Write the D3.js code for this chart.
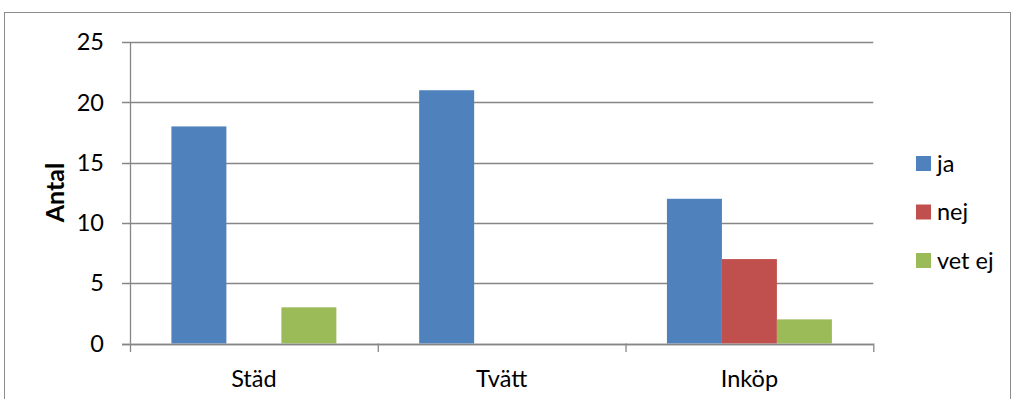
<!DOCTYPE html>
<html><head><meta charset="utf-8">
<script src="https://cdn.jsdelivr.net/npm/d3@7"></script>
<style>
html,body{margin:0;padding:0;background:#fff;}
svg{display:block;font-family:Lato,"Open Sans",sans-serif;}
</style></head>
<body>
<svg id="chart" width="1011" height="399"></svg>
<script>
const categories = ["Städ", "Tvätt", "Inköp"];
const seriesNames = ["ja", "nej", "vet ej"];
const ja = [18, 21, 12];
const nej = [0, 0, 7];
const vetEj = [3, 0, 2];
const yTicks = [0, 5, 10, 15, 20, 25];
const colors = ["#4F81BD", "#C0504D", "#9BBB59"];

const seriesValues = [ja, nej, vetEj];
const svg = d3.select("#chart");
const pLeft = 130, pRight = 873.3, pTop = 42, pBottom = 343.5;
const fs = 23.5;

// outer frame
svg.append("rect").attr("x", 4.5).attr("y", 12.5).attr("width", 1006).attr("height", 400)
  .attr("fill", "none").attr("stroke", "#8c8c8c").attr("stroke-width", 1);

const x = d3.scaleBand().domain(categories).range([pLeft, pRight]).paddingInner(0).paddingOuter(0);
const y = d3.scaleLinear().domain([0, 25]).range([pBottom, pTop]);
const groupPad = 41.4;
const x1 = d3.scaleBand().domain(seriesNames).range([groupPad, x.bandwidth() - groupPad]).padding(0);

const gridColor = "#868686";
// gridlines + y ticks
const gy = svg.append("g");
yTicks.forEach(t => {
  gy.append("line").attr("x1", pLeft - 8).attr("x2", pRight)
    .attr("y1", Math.round(y(t)) + 0.5).attr("y2", Math.round(y(t)) + 0.5)
    .attr("stroke", gridColor).attr("stroke-width", 1.3);
  gy.append("text").attr("x", 104).attr("y", y(t)).attr("dy", "0.35em")
    .attr("text-anchor", "end").attr("font-size", fs).attr("fill", "#000").text(t);
});
// y axis line
svg.append("line").attr("x1", pLeft + 0.5).attr("x2", pLeft + 0.5).attr("y1", pTop).attr("y2", pBottom)
  .attr("stroke", gridColor).attr("stroke-width", 1.3);

// bars
const rows = categories.map((c, i) => ({c, vals: seriesValues.map((s, j) => ({name: seriesNames[j], v: s[i], color: colors[j]}))}));
const groups = svg.append("g").selectAll("g").data(rows).join("g")
  .attr("transform", d => `translate(${x(d.c)},0)`);
groups.selectAll("rect").data(d => d.vals.filter(v => v.v > 0)).join("rect")
  .attr("x", d => x1(d.name)).attr("width", x1.bandwidth())
  .attr("y", d => y(d.v)).attr("height", d => y(0) - y(d.v))
  .attr("fill", d => d.color);

// x axis line + ticks
svg.append("line").attr("x1", pLeft - 8).attr("x2", pRight).attr("y1", Math.round(pBottom) + 0.5).attr("y2", Math.round(pBottom) + 0.5)
  .attr("stroke", gridColor).attr("stroke-width", 1.3);
const xTickPos = categories.map(c => x(c)).concat([pRight]);
xTickPos.forEach(p => {
  svg.append("line").attr("x1", p + 0.5).attr("x2", p + 0.5).attr("y1", pBottom).attr("y2", pBottom + 8.5)
    .attr("stroke", gridColor).attr("stroke-width", 1.3);
});
categories.forEach(c => {
  svg.append("text").attr("x", x(c) + x.bandwidth() / 2).attr("y", 387)
    .attr("text-anchor", "middle").attr("font-size", fs).attr("fill", "#000").text(c);
});

// y title
svg.append("text").attr("transform", "translate(63.5,192.5) rotate(-90)")
  .attr("text-anchor", "middle").attr("font-size", 25).attr("font-weight", "bold").attr("fill", "#000").text("Antal");

// legend
const lg = svg.append("g");
seriesNames.forEach((n, i) => {
  const cy = 163.5 + i * 48.5;
  lg.append("rect").attr("x", 916).attr("y", cy - 7.5).attr("width", 15).attr("height", 15).attr("fill", colors[i]);
  lg.append("text").attr("x", 937).attr("y", cy).attr("dy", "0.35em").attr("font-size", fs).attr("fill", "#000").text(n);
});
</script>
</body></html>
